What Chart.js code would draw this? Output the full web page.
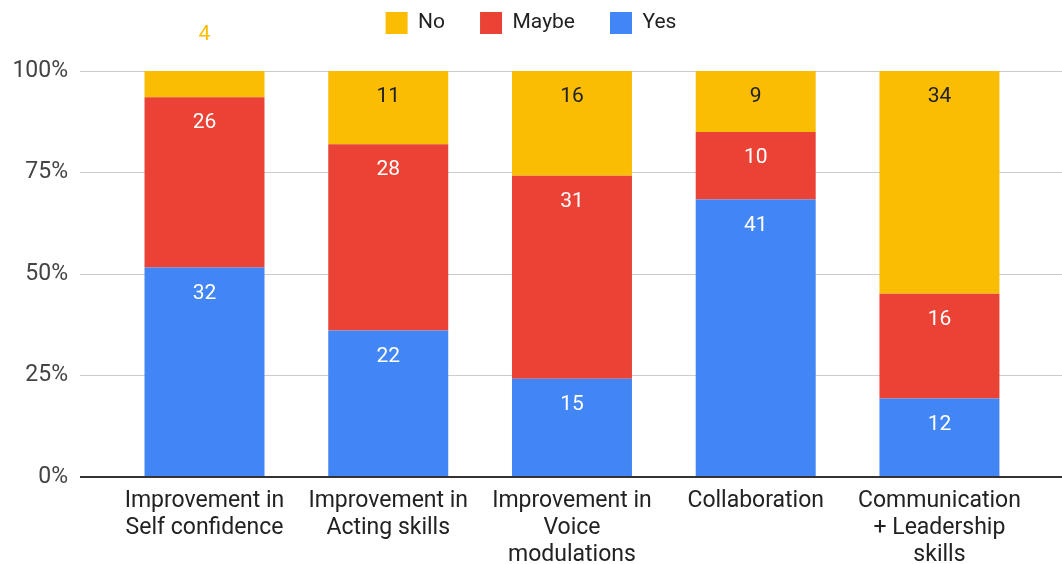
<!DOCTYPE html>
<html>
<head>
<meta charset="utf-8">
<script src="https://cdn.jsdelivr.net/npm/chart.js@4"></script>
<style>
  body { margin: 0; background: #fff; }
  #wrap { width: 1062px; height: 564px; }
</style>
</head>
<body>
<div id="wrap"><canvas id="chart"></canvas></div>
<script>
const categories = [
    ['Improvement in', 'Self confidence'],
    ['Improvement in', 'Acting skills'],
    ['Improvement in', 'Voice', 'modulations'],
    'Collaboration',
    ['Communication', '+ Leadership', 'skills']
];
const yesCounts = [32, 22, 15, 41, 12];
const maybeCounts = [26, 28, 31, 10, 16];
const noCounts = [4, 11, 16, 9, 34];
const yTicks = [0, 25, 50, 75, 100];

const totals = yesCounts.map((v, i) => v + maybeCounts[i] + noCounts[i]);
const toPct = arr => arr.map((v, i) => ({ x: i, y: v / totals[i] * 100, count: v }));

// labels with the raw counts, drawn at each bar segment
const valueLabels = {
    id: 'valueLabels',
    afterDatasetsDraw(chart) {
        const ctx = chart.ctx;
        ctx.save();
        ctx.font = '21px Roboto';
        ctx.textAlign = 'center';
        ctx.textBaseline = 'middle';
        chart.data.datasets.forEach((ds, di) => {
            chart.getDatasetMeta(di).data.forEach((bar, i) => {
                const h = bar.base - bar.y;
                const txt = String(ds.data[i].count);
                if (h < 40) {
                    ctx.fillStyle = ds.backgroundColor;
                    ctx.fillText(txt, bar.x, bar.y - 36);
                } else {
                    ctx.fillStyle = ds.labelColor;
                    ctx.fillText(txt, bar.x, bar.y + 26);
                }
            });
        });
        ctx.restore();
    }
};

// pull the legend up so it sits near the top edge
const legendShift = {
    id: 'legendShift',
    afterLayout(chart) {
        chart.legend.top -= 27;
    }
};

new Chart(document.getElementById('chart'), {
    type: 'bar',
    data: {
        datasets: [
            { label: 'Yes', data: toPct(yesCounts), backgroundColor: '#4285f4', labelColor: '#ffffff' },
            { label: 'Maybe', data: toPct(maybeCounts), backgroundColor: '#ea4335', labelColor: '#ffffff' },
            { label: 'No', data: toPct(noCounts), backgroundColor: '#fbbc04', labelColor: '#202124' }
        ]
    },
    options: {
        responsive: true,
        maintainAspectRatio: false,
        animation: false,
        layout: { padding: { top: 4, left: 0, right: 0, bottom: 0 } },
        datasets: {
            bar: { barPercentage: 0.653, categoryPercentage: 1 }
        },
        scales: {
            x: {
                type: 'linear',
                stacked: true,
                offset: false,
                min: -0.6776,
                max: 4.667,
                grid: { display: false },
                border: { display: false },
                afterBuildTicks: s => { s.ticks = categories.map((c, i) => ({ value: i })); },
                afterFit: s => { s.height = 87; },
                ticks: {
                    autoSkip: false,
                    maxRotation: 0,
                    padding: 3,
                    color: '#222',
                    font: { family: 'Roboto', size: 23, lineHeight: 1.17 },
                    callback: v => categories[v]
                }
            },
            y: {
                stacked: true,
                min: 0,
                max: 100,
                afterBuildTicks: s => { s.ticks = yTicks.map(v => ({ value: v })); },
                afterFit: s => { s.width = 80; },
                grid: {
                    drawTicks: false,
                    color: c => c.tick.value === 0 ? '#333333' : '#cccccc',
                    lineWidth: c => c.tick.value === 0 ? 2 : 1
                },
                border: { display: false },
                ticks: {
                    padding: 12,
                    color: '#444',
                    font: { family: 'Roboto', size: 23 },
                    callback: v => v + '%'
                }
            }
        },
        plugins: {
            legend: {
                reverse: true,
                labels: {
                    boxWidth: 22,
                    boxHeight: 22,
                    padding: 35,
                    color: '#222',
                    font: { family: 'Roboto', size: 21 }
                }
            },
            tooltip: { enabled: false }
        }
    },
    plugins: [valueLabels, legendShift]
});
</script>
</body>
</html>
